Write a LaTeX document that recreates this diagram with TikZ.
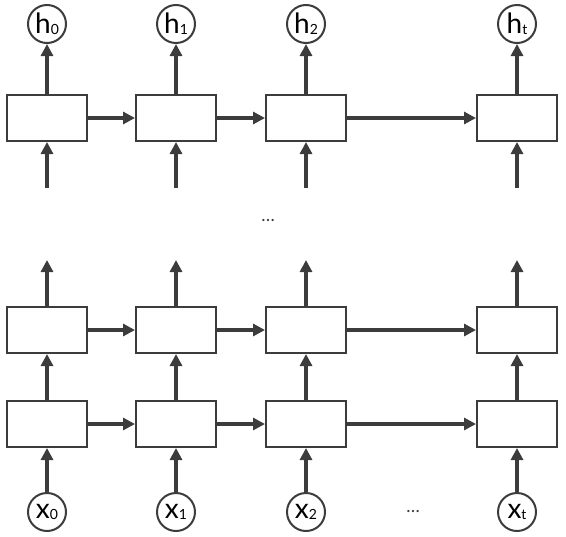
\documentclass[tikz,border=0pt]{standalone}
\usepackage{fontspec}
\setmainfont{Lato}
\usetikzlibrary{arrows.meta}

\definecolor{linegray}{HTML}{3C3C3C}
\newcommand{\idx}[1]{\raisebox{-0.6pt}{\fontsize{7}{7}\selectfont #1}}

\tikzset{
    cell/.style={draw=linegray, line width=1pt, minimum width=40pt, minimum height=23pt, inner sep=0pt},
    unit/.style={circle, draw=linegray, line width=1pt, minimum size=19pt, inner sep=0pt, font=\fontsize{14}{14}\selectfont},
    flow/.style={draw=linegray, line width=1.6pt, -{Triangle[length=6pt, width=6pt]}},
}

\begin{document}
\begin{tikzpicture}[x=0.5pt, y=-0.5pt]
    \useasboundingbox (0, 0) rectangle (566, 536);

    \foreach \n/\x in {0/47, 1/176, 2/306, t/517} {
        \node[unit] (h\n) at (\x, 24) {h\idx{\n}};
        \node[cell] (a\n) at (\x, 118) {};
        \coordinate (in\n) at (\x, 188);
        \coordinate (out\n) at (\x, 260);
        \node[cell] (b\n) at (\x, 330) {};
        \node[cell] (c\n) at (\x, 424) {};
        \node[unit] (x\n) at (\x, 512) {x\idx{\n}};
        \draw[flow] (a\n) -- (h\n);
        \draw[flow] (in\n) -- (a\n);
        \draw[flow] (b\n) -- (out\n);
        \draw[flow] (c\n) -- (b\n);
        \draw[flow] (x\n) -- (c\n);
    }
    \foreach \l/\r in {0/1, 1/2, 2/t} {
        \draw[flow] (a\l) -- (a\r);
        \draw[flow] (b\l) -- (b\r);
        \draw[flow] (c\l) -- (c\r);
    }

    \node[text=linegray, font=\fontsize{9}{9}\selectfont] (vdots) at (268, 220) {\ldots};
    \node[text=linegray, font=\fontsize{9}{9}\selectfont] (hdots) at (413, 511) {\ldots};
\end{tikzpicture}
\end{document}
